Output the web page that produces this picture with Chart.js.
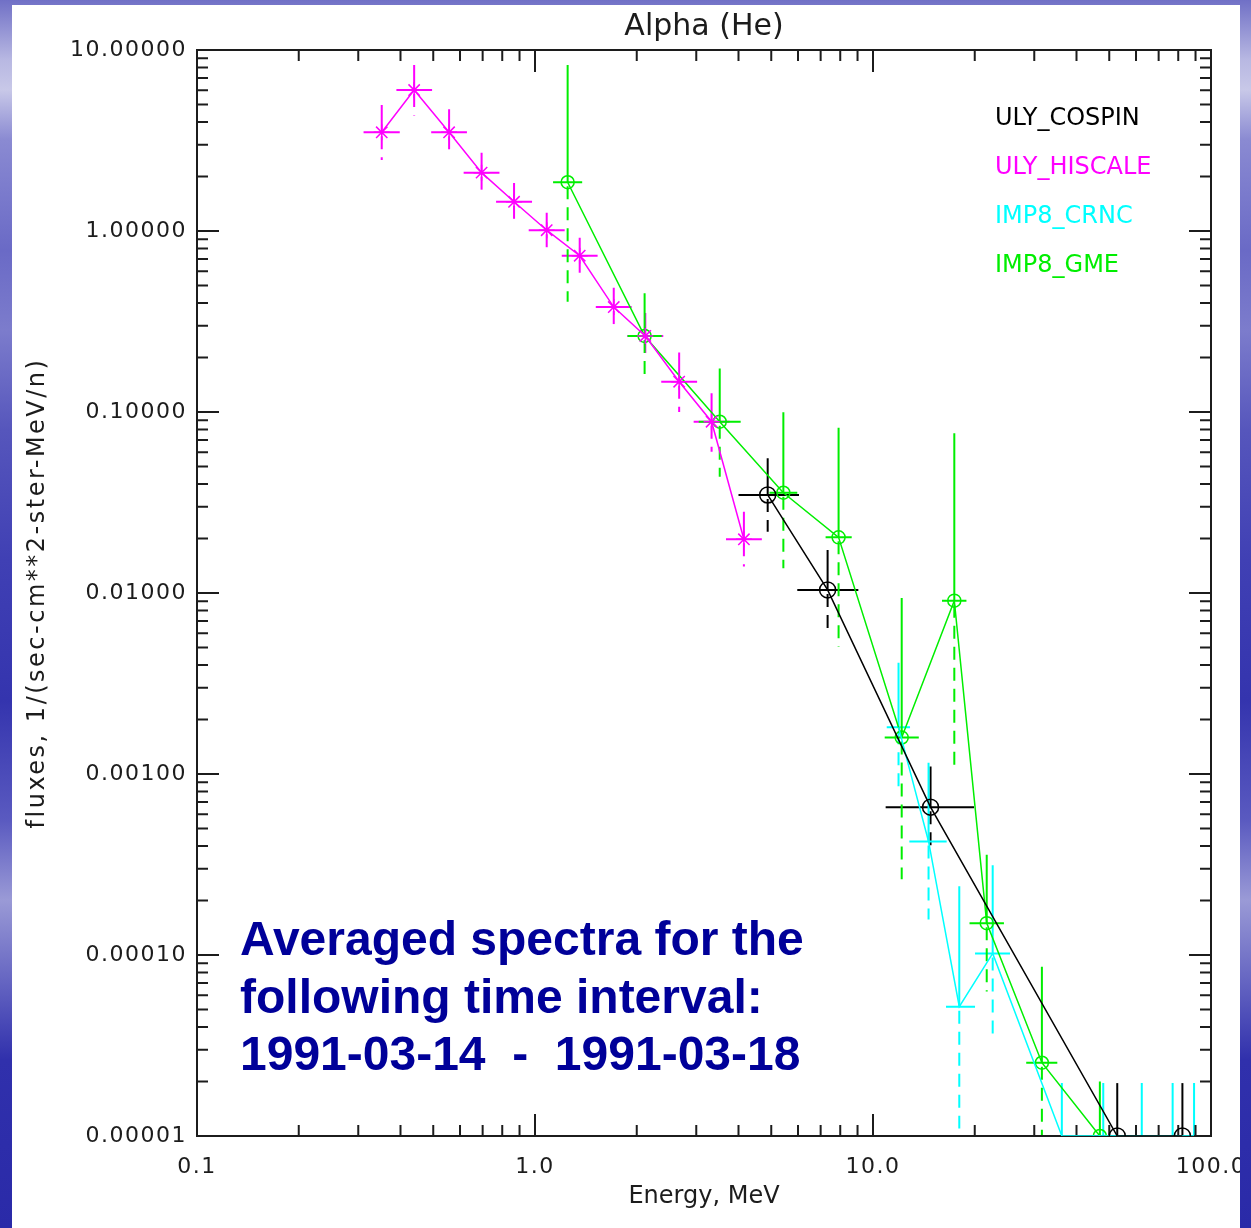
<!DOCTYPE html>
<html lang="en">
<head>
<meta charset="UTF-8">
<title>Alpha (He)</title>
<script src="https://cdn.jsdelivr.net/npm/chart.js"></script>
<style>
    :root {
        --slide: linear-gradient(to bottom, #7070c6 0px, #b8b8e2 60px, #c8c8e8 90px, #8a8ad2 140px,
                 #6a6ac6 250px, #7c7ccc 330px, #5656bc 430px, #4040b4 560px, #3434ae 700px,
                 #5a5ac0 820px, #9a9ad6 900px, #6666c2 980px, #3030ac 1060px, #2a2aa8 1228px);
    }
    body { margin: 0; width: 1251px; height: 1228px; overflow: hidden; position: relative; background: var(--slide); }
    .panel { position: absolute; left: 12px; top: 5px; width: 1228px; height: 1223px; background: #fff; }
    .chart-box { position: absolute; left: 0; top: 0; width: 1251px; height: 1228px; }
    .edge { position: absolute; left: 1240px; top: 0; width: 11px; height: 1228px; background: var(--slide); }
    .note {
        position: absolute; left: 240px; top: 910px; margin: 0;
        font: bold 48px "Liberation Sans", Arial, sans-serif; line-height: 57.6px;
        color: #000099; white-space: pre;
    }
</style>
</head>
<body>
<div class="panel"></div>
<div class="chart-box"><canvas id="spectra"></canvas></div>
<p class="note">Averaged spectra for the
following time interval:
1991-03-14  -  1991-03-18</p>
<div class="edge"></div>

<script>
// energies in MeV, fluxes in 1/(sec-cm**2-ster-MeV/n); null = no bar
const cospinEnergy   = [4.88, 7.34, 14.8, 52.8, 82.3];
const cospinFlux     = [0.0348, 0.0104, 0.000656, 1e-5, 1e-5];
const cospinFluxHi   = [0.0555, 0.0173, 0.0011, 1.96e-5, 1.96e-5];
const cospinFluxLo   = [0.0218, 0.00625, 0.000404, null, null];
const cospinEnergyLo = [4.00, 5.97, 10.9, null, null];
const cospinEnergyHi = [6.04, 9.05, 19.9, null, null];

const hiscaleEnergy   = [0.352, 0.439, 0.557, 0.695, 0.867, 1.083, 1.356, 1.71, 2.12, 2.67, 3.33, 4.15];
const hiscaleFlux     = [3.51, 6.01, 3.51, 2.10, 1.45, 1.01, 0.730, 0.380, 0.263, 0.147, 0.0884, 0.0198];
const hiscaleFluxHi   = [4.97, 8.26, 4.70, 2.71, 1.84, 1.26, 0.918, 0.486, 0.352, 0.213, 0.127, 0.0281];
const hiscaleFluxLo   = [2.47, 4.34, 2.60, 1.63, 1.15, 0.80, 0.571, 0.287, 0.199, 0.100, 0.0603, 0.0140];
const hiscaleEnergyLo = [0.311, 0.389, 0.493, 0.615, 0.767, 0.958, 1.200, 1.513, 1.876, 2.363, 2.947, 3.673];
const hiscaleEnergyHi = [0.398, 0.496, 0.629, 0.785, 0.980, 1.224, 1.532, 1.932, 2.396, 3.017, 3.763, 4.690];

const crncEnergy   = [11.9, 14.6, 18.0, 22.6, 36.2, 48.0, 62.4, 77.0, 89.1];
const crncFlux     = [0.00181, 0.000424, 0.0000518, 0.000102, 1e-5, 1e-5, 1e-5, 1e-5, 1e-5];
const crncFluxHi   = [0.00412, 0.001155, 0.00024, 0.000313, 1.96e-5, 1.96e-5, 1.96e-5, 1.96e-5, 1.96e-5];
const crncFluxLo   = [0.000836, 0.000157, 0.000011, 0.0000335, null, null, null, null, null];
const crncEnergyLo = [10.98, 12.81, 16.44, 20.04, 32.0, 42.5, 55.2, 68.1, 80.8];
const crncEnergyHi = [12.87, 16.52, 20.04, 25.43, 40.9, 54.2, 70.5, 87.0, 94.6];

const gmeEnergy   = [1.249, 2.11, 3.52, 5.43, 7.91, 12.16, 17.4, 21.7, 31.6, 46.9];
const gmeFlux     = [1.86, 0.263, 0.0884, 0.0358, 0.0203, 0.00159, 0.00907, 0.000150, 0.0000254, 1e-5];
const gmeFluxHi   = [8.26, 0.453, 0.174, 0.0996, 0.0819, 0.00939, 0.0762, 0.000358, 0.0000861, 2.0e-5];
const gmeFluxLo   = [0.407, 0.153, 0.0439, 0.0137, 0.00505, 0.000262, 0.00112, 0.0000628, 1e-5, null];
const gmeEnergyLo = [1.131, 1.879, 3.05, 4.94, 7.24, 10.83, 16.0, 19.3, 28.4, 42.9];
const gmeEnergyHi = [1.379, 2.370, 4.06, 5.97, 8.65, 13.66, 18.9, 24.4, 35.1, 51.3];

const xTicks = [0.1, 1, 10, 100];
const yTicks = [1e-5, 1e-4, 1e-3, 1e-2, 1e-1, 1, 10];

const series = [
    { label: 'ULY_COSPIN',  color: '#000000', energy: cospinEnergy,  flux: cospinFlux,  fluxHi: cospinFluxHi,  fluxLo: cospinFluxLo,  energyLo: cospinEnergyLo,  energyHi: cospinEnergyHi,  style: 'circle', radius: 8 },
    { label: 'ULY_HISCALE', color: '#ff00ff', energy: hiscaleEnergy, flux: hiscaleFlux, fluxHi: hiscaleFluxHi, fluxLo: hiscaleFluxLo, energyLo: hiscaleEnergyLo, energyHi: hiscaleEnergyHi, style: 'star',   radius: 8 },
    { label: 'IMP8_CRNC',   color: '#00ffff', energy: crncEnergy,    flux: crncFlux,    fluxHi: crncFluxHi,    fluxLo: crncFluxLo,    energyLo: crncEnergyLo,    energyHi: crncEnergyHi,    style: 'circle', radius: 0 },
    { label: 'IMP8_GME',    color: '#00ee00', energy: gmeEnergy,     flux: gmeFlux,     fluxHi: gmeFluxHi,     fluxLo: gmeFluxLo,     energyLo: gmeEnergyLo,     energyHi: gmeEnergyHi,     style: 'circle', radius: 6.5 }
];

const axisFont = { family: 'DejaVu Sans', size: 22 };
const inkColor = '#1c1c1c';

// vertical bars: solid upward, dashed downward; horizontal bar = energy bin
const errorBars = {
    id: 'errorBars',
    beforeDatasetsDraw(chart) {
        const { ctx, chartArea: a, scales: { x, y } } = chart;
        ctx.save();
        ctx.beginPath();
        ctx.rect(a.left, a.top, a.width, a.height);
        ctx.clip();
        ctx.lineWidth = 2;
        series.forEach(s => {
            ctx.strokeStyle = s.color;
            s.energy.forEach((e, i) => {
                const px = x.getPixelForValue(e);
                const py = y.getPixelForValue(s.flux[i]);
                ctx.setLineDash([]);
                ctx.beginPath();
                ctx.moveTo(px, py);
                ctx.lineTo(px, y.getPixelForValue(s.fluxHi[i]));
                if (s.energyLo[i] != null) {
                    ctx.moveTo(x.getPixelForValue(s.energyLo[i]), py);
                    ctx.lineTo(x.getPixelForValue(s.energyHi[i]), py);
                }
                ctx.stroke();
                if (s.fluxLo[i] != null) {
                    ctx.setLineDash([13, 8]);
                    ctx.beginPath();
                    ctx.moveTo(px, py + 4);
                    ctx.lineTo(px, y.getPixelForValue(s.fluxLo[i]));
                    ctx.stroke();
                }
            });
        });
        ctx.restore();
    }
};

// box with ticks on all four sides (under the data), then titles and legend on top
const frame = {
    id: 'frame',
    beforeDraw(chart) {
        chart.ctx.letterSpacing = '1.5px';
    },
    beforeDatasetsDraw(chart) {
        const { ctx, chartArea: a, scales: { x, y } } = chart;
        ctx.save();
        ctx.strokeStyle = inkColor;
        ctx.lineWidth = 2;
        ctx.strokeRect(a.left, a.top, a.width, a.height);
        ctx.beginPath();
        for (let d = -1; d <= 2; d++) {
            for (let k = 1; k < 10; k++) {
                const v = k * Math.pow(10, d);
                if (v < 0.1 || v > 100) continue;
                const len = k === 1 ? 22 : 11;
                const px = x.getPixelForValue(v);
                ctx.moveTo(px, a.bottom); ctx.lineTo(px, a.bottom - len);
                ctx.moveTo(px, a.top); ctx.lineTo(px, a.top + len);
            }
        }
        for (let d = -5; d <= 1; d++) {
            for (let k = 1; k < 10; k++) {
                const v = k * Math.pow(10, d);
                if (v < 1e-5 || v > 10) continue;
                const len = k === 1 ? 22 : 11;
                const py = y.getPixelForValue(v);
                ctx.moveTo(a.left, py); ctx.lineTo(a.left + len, py);
                ctx.moveTo(a.right, py); ctx.lineTo(a.right - len, py);
            }
        }
        ctx.stroke();
        ctx.restore();
    },
    afterDraw(chart) {
        const { ctx, chartArea: a } = chart;
        ctx.save();
        ctx.letterSpacing = '0px';
        ctx.fillStyle = inkColor;
        ctx.textAlign = 'center';
        ctx.textBaseline = 'middle';
        ctx.font = '30px "DejaVu Sans"';
        ctx.fillText('Alpha (He)', (a.left + a.right) / 2, 27);
        ctx.font = '24px "DejaVu Sans"';
        ctx.fillText('Energy, MeV', (a.left + a.right) / 2, 1197);
        ctx.save();
        ctx.translate(38, (a.top + a.bottom) / 2);
        ctx.rotate(-Math.PI / 2);
        ctx.letterSpacing = '2.5px';
        ctx.fillText('fluxes, 1/(sec-cm**2-ster-MeV/n)', 0, 0);
        ctx.restore();

        ctx.textAlign = 'left';
        ctx.font = '24px "DejaVu Sans"';
        series.forEach((s, i) => {
            ctx.fillStyle = s.color;
            ctx.fillText(s.label, 995, 119 + 49 * i);
        });
        ctx.restore();
    }
};

new Chart(document.getElementById('spectra'), {
    type: 'scatter',
    data: {
        datasets: series.map(s => ({
            label: s.label,
            data: s.energy.map((e, i) => ({ x: e, y: s.flux[i] })),
            showLine: true,
            borderColor: s.color,
            borderWidth: 1.5,
            backgroundColor: 'rgba(0,0,0,0)',
            pointStyle: s.style,
            pointRadius: s.radius,
            pointBorderWidth: 1.5,
            pointBorderColor: s.color,
            pointBackgroundColor: 'rgba(0,0,0,0)'
        }))
    },
    options: {
        responsive: true,
        maintainAspectRatio: false,
        animation: false,
        events: [],
        layout: { padding: { top: 50, right: 40, left: 0, bottom: 0 } },
        plugins: { legend: { display: false }, tooltip: { enabled: false } },
        scales: {
            x: {
                type: 'logarithmic', min: 0.1, max: 100,
                afterFit: s => { s.height = 92; s.paddingLeft = 0; s.paddingRight = 0; },
                afterBuildTicks: s => { s.ticks = xTicks.map(v => ({ value: v })); },
                ticks: { callback: v => v.toFixed(1), color: inkColor, font: axisFont, padding: 18, maxRotation: 0, autoSkip: false },
                grid: { display: false, drawTicks: false },
                border: { display: false }
            },
            y: {
                type: 'logarithmic', min: 1e-5, max: 10,
                afterFit: s => { s.width = 197; s.paddingTop = 0; s.paddingBottom = 0; },
                afterBuildTicks: s => { s.ticks = yTicks.map(v => ({ value: v })); },
                ticks: { callback: v => v.toFixed(5), color: inkColor, font: axisFont, padding: 10, autoSkip: false },
                grid: { display: false, drawTicks: false },
                border: { display: false }
            }
        }
    },
    plugins: [errorBars, frame]
});
</script>
</body>
</html>
